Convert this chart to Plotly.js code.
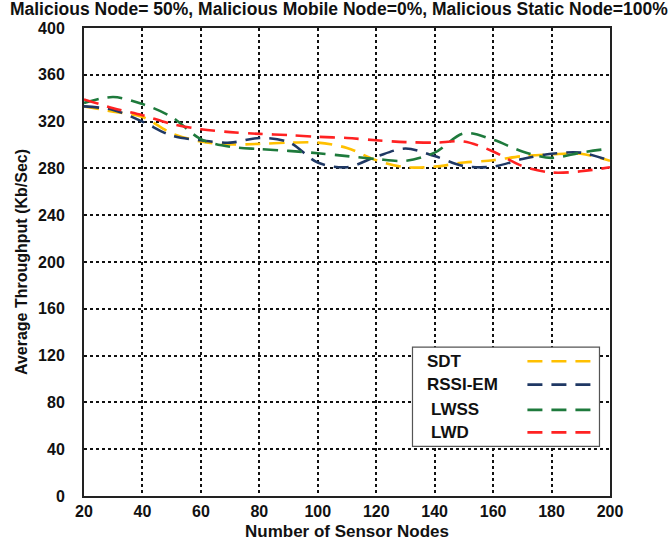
<!DOCTYPE html>
<html>
<head>
<meta charset="utf-8">
<script src="https://cdn.plot.ly/plotly-3.0.1.min.js"></script>
<style>html,body{margin:0;padding:0;background:#fff}#chart{width:671px;height:545px}</style>
</head>
<body>
<div id="chart"></div>
<script>
// Data
const nodes = [20, 30, 40, 50, 60, 70, 80, 90, 100, 110, 120, 130, 140, 150, 160, 170, 180, 190, 200];
const sdt    = [333, 328.5, 324, 310, 303, 300.5, 301, 302, 302, 297.5, 287, 281, 281.5, 285, 287, 290.5, 292, 292.5, 286.5];
const rssiEm = [333, 330, 320, 308, 304, 302, 306, 302.5, 285, 281, 290, 297, 290.5, 282, 281.5, 288, 292.5, 293.5, 286.5];
const lwss   = [336, 341, 335, 324, 305, 298.5, 296.5, 295, 293, 290.5, 288, 286.5, 293.5, 310, 304.5, 294.5, 289, 293.5, 297];
const lwd    = [339, 331.5, 325.5, 318, 313.5, 311, 309.5, 308.5, 307, 306, 304, 302.5, 302, 303, 294.5, 282, 276.5, 277.5, 281];

const seriesNames = ['SDT', 'RSSI-EM', 'LWSS', 'LWD'];
const seriesData = [sdt, rssiEm, lwss, lwd];
const colors = ['#FFC000', '#1F3864', '#1E7A3C', '#FF2222'];

const xTicks = [20, 40, 60, 80, 100, 120, 140, 160, 180, 200];
const yTicks = [0, 40, 80, 120, 160, 200, 240, 280, 320, 360, 400];

const FONT = 'Liberation Sans, Arial, sans-serif';

const traces = seriesNames.map((n, i) => ({
  x: nodes, y: seriesData[i], name: n, type: 'scatter', mode: 'lines',
  line: {color: colors[i], width: 2.6, dash: '15px,9px', shape: 'spline', smoothing: 0.9},
  showlegend: false
}));

// custom legend: text on the left, line sample on the right
const legY = [0.288, 0.238, 0.184, 0.136];
const shapes = [{
  type: 'rect', xref: 'paper', yref: 'paper',
  x0: 0.6245, x1: 0.98, y0: 0.106, y1: 0.318,
  line: {color: '#555', width: 1.2}, fillcolor: '#fff', layer: 'above'
}];
const annotations = [];
seriesNames.forEach((n, i) => {
  annotations.push({
    xref: 'paper', yref: 'paper', x: 0.648 + (i >= 2 ? 0.008 : 0), y: legY[i],
    text: n, showarrow: false, xanchor: 'left', yanchor: 'middle',
    font: {family: FONT, size: 17, color: '#111', weight: 700}
  });
  shapes.push({
    type: 'line', xref: 'paper', yref: 'paper',
    x0: 0.843, x1: 0.972, y0: legY[i], y1: legY[i],
    line: {color: colors[i], width: 2.6, dash: '15px,9px'}, layer: 'above'
  });
});

const axisCommon = {
  showline: true, linecolor: '#222', linewidth: 2, mirror: true,
  showgrid: true, gridcolor: '#111', gridwidth: 2, griddash: 'dot',
  zeroline: false, ticks: '',
  tickfont: {family: FONT, size: 16, color: '#111', weight: 700}
};

const layout = {
  width: 671, height: 545,
  margin: {l: 84, r: 61, t: 28, b: 49},
  paper_bgcolor: '#fff', plot_bgcolor: '#fff',
  title: {
    text: 'Malicious Node= 50%, Malicious Mobile Node=0%, Malicious Static Node=100%',
    font: {family: FONT, size: 17.5, color: '#111', weight: 700},
    x: 0.505, xanchor: 'center', xref: 'container',
    y: 0.983, yanchor: 'middle', yref: 'container'
  },
  xaxis: Object.assign({}, axisCommon, {
    range: [20, 200], tickvals: xTicks, ticktext: xTicks.map(String),
    title: {text: 'Number of Sensor Nodes', standoff: 6,
      font: {family: FONT, size: 17, color: '#111', weight: 700}}
  }),
  yaxis: Object.assign({}, axisCommon, {
    range: [0, 400], tickvals: yTicks, ticktext: yTicks.map(String),
    ticklabelstandoff: 14,
    title: {text: 'Average Throughput (Kb/Sec)', standoff: 6,
      font: {family: FONT, size: 16, color: '#111', weight: 700}}
  }),
  shapes: shapes,
  annotations: annotations
};

Plotly.newPlot('chart', traces, layout, {displayModeBar: false, staticPlot: true});
</script>
</body>
</html>
